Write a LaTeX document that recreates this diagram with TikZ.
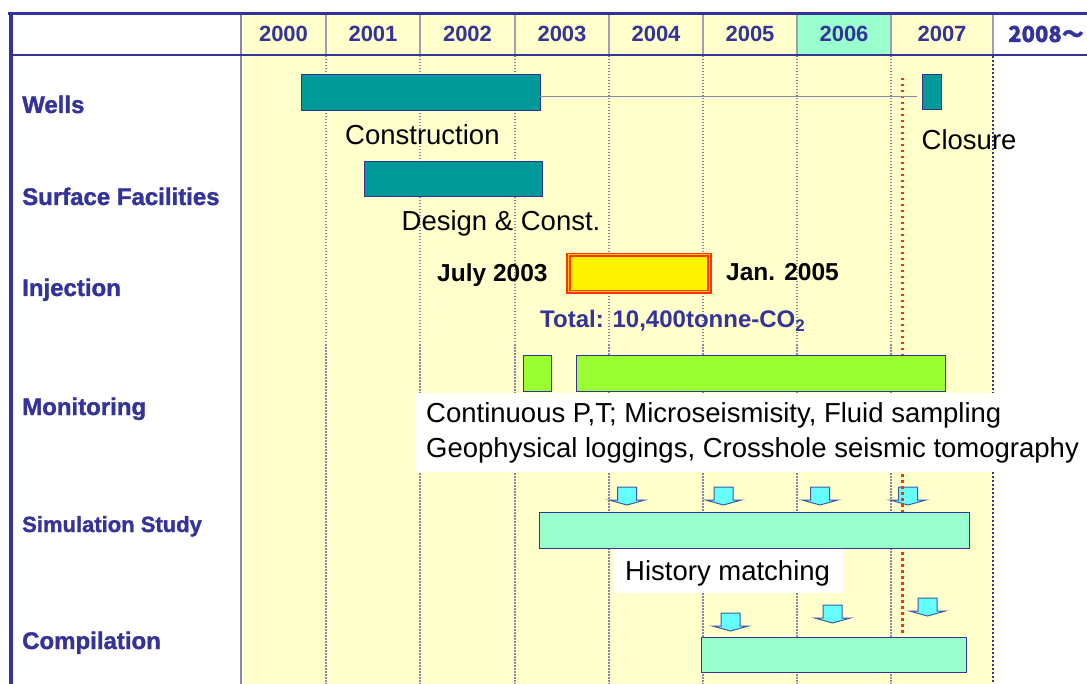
\documentclass[tikz,border=0pt]{standalone}
\usepackage{fontspec}
\setmainfont{Liberation Sans}
\newfontfamily\cjk{Noto Sans CJK JP}[BoldFeatures={FakeBold=1.2}]
\newfontfamily\heavy{Liberation Sans Bold}[FakeBold=1.4]
\definecolor{frameblue}{HTML}{333399}
\definecolor{bgyellow}{HTML}{FFFFCC}
\definecolor{mint}{HTML}{99FFCC}
\definecolor{teal}{HTML}{009999}
\definecolor{limeg}{HTML}{99FF33}
\definecolor{gridgray}{HTML}{8888AA}
\definecolor{sepgray}{HTML}{A0A0B4}
\definecolor{redline}{HTML}{FF3300}
\definecolor{arrcyan}{HTML}{66FFFF}
\definecolor{arredge}{HTML}{4455AA}
\newcommand\dnarr[2]{%
  \path[blockarrow] (#1-9.5,#2) -- (#1+9.5,#2) -- (#1+9.5,#2+13) -- (#1+18,#2+13)
    -- (#1,#2+18) -- (#1-18,#2+13) -- (#1-9.5,#2+13) -- cycle;}
\begin{document}
\begin{tikzpicture}[x=1pt,y=-1pt,
  rowlabel/.style={anchor=base west,inner sep=0pt,text=frameblue,font=\heavy\fontsize{24}{28}\selectfont},
  yearlabel/.style={anchor=base,inner sep=0pt,text=frameblue,font=\bfseries\fontsize{22}{26}\selectfont},
  note/.style={anchor=base west,inner sep=0pt,text=black,font=\fontsize{27.5}{32}\selectfont},
  boldnote/.style={anchor=base west,inner sep=0pt,text=black,font=\bfseries\fontsize{24.5}{28}\selectfont},
  bar/.style={anchor=north west,draw=frameblue,line width=1pt,inner sep=0pt,outer sep=0pt},
  whitebox/.style={anchor=north west,fill=white,inner sep=0pt,outer sep=0pt},
  grid/.style={draw=gridgray,line width=1.5pt,dash pattern=on 1.5pt off 1.5pt},
  hsep/.style={draw=sepgray,line width=2.5pt},
  blockarrow/.style={fill=arrcyan,draw=arredge,line width=1pt,line join=miter}
]
\useasboundingbox (0,0) rectangle (1087,684);
\fill[white] (0,0) rectangle (1087,684);
% background
\fill[bgyellow] (241,15) rectangle (993,684);
\fill[mint] (797,15) rectangle (891,55);
% header separators
\foreach \xx in {326,420,515,609,703,797,891,993} \draw[hsep] (\xx,15) -- (\xx,55);
% grid lines
\foreach \xx in {326,420,515,609,703,797,891} \draw[grid] (\xx,56) -- (\xx,684);
\draw[draw=frameblue,line width=2pt,dash pattern=on 2pt off 2pt] (993,56) -- (993,684);
\draw[draw=gridgray,line width=2pt] (241,15) -- (241,684);
% frame
\draw[frameblue,line width=1.6pt] (12,55) -- (1087,55);
\draw[frameblue,line width=3.5pt] (8.3,13.3) -- (1087,13.3);
\draw[frameblue,line width=4pt] (10.5,13.3) -- (10.5,684);
% year labels
\node[yearlabel] (y2000) at (283.5,42) {2000};
\node[yearlabel] (y2001) at (373,42) {2001};
\node[yearlabel] (y2002) at (467.5,42) {2002};
\node[yearlabel] (y2003) at (562,42) {2003};
\node[yearlabel] (y2004) at (656,42) {2004};
\node[yearlabel] (y2005) at (750,42) {2005};
\node[yearlabel] (y2006) at (844,42) {2006};
\node[yearlabel] (y2007) at (942,42) {2007};
\node[anchor=base,inner sep=0pt,text=frameblue,font=\cjk\bfseries\fontsize{22}{26}\selectfont] (y2008) at (1046,42) {2008～};
% row labels
\node[rowlabel] (lwells) at (22,113) {Wells};
\node[rowlabel] (lsurf) at (22,205) {Surface Facilities};
\node[rowlabel] (linj) at (22,296) {Injection};
\node[rowlabel] (lmon) at (22,415) {Monitoring};
\node[rowlabel,font=\heavy\fontsize{22}{26}\selectfont] (lsim) at (22,532) {Simulation Study};
\node[rowlabel] (lcomp) at (22,649) {Compilation};
% arrows
\dnarr{627}{487}
\dnarr{723.5}{487}
\dnarr{820}{487}
\dnarr{908}{487}
\dnarr{730.5}{613}
\dnarr{832.5}{605}
\dnarr{927.5}{598}
% red dotted line
\draw[redline,line width=3pt,dash pattern=on 2.5pt off 3.5pt] (902,78) -- (902,635);
% wells
\coordinate (wellsr) at (917,97);
\node[bar,fill=teal,minimum width=239pt,minimum height=36pt] (wellsbar) at (301,75) {};
\draw[gridgray,line width=1pt] (wellsbar.east |- wellsr) -- (wellsr);
\node[bar,fill=teal,minimum width=19pt,minimum height=35pt] (closebar) at (922,75) {};
\node[note] (tconst) at (345,145) {Construction};
\node[note] (tclose) at (921.5,150) {Closure};
% surface facilities
\node[bar,fill=teal,minimum width=178pt,minimum height=35pt] (surfbar) at (364,162) {};
\node[note] (tdesign) at (401.5,231) {Design \& Const.};
% injection
\node[anchor=north west,fill=yellow,draw=redline,double=orange!40!yellow,double distance=1pt,line width=1.7pt,inner sep=0pt,minimum width=141pt,minimum height=37pt] (injbar) at (567.5,254) {};
\node[boldnote] (tjuly) at (437,282) {July 2003};
\node[boldnote] (tjan) at (726,281) {Jan. 2005};
\node[boldnote,text=frameblue,font=\bfseries\fontsize{24}{28}\selectfont] (ttotal) at (540,328) {Total: 10,400tonne-CO\textsubscript{2}};
% monitoring
\node[bar,fill=limeg,minimum width=28pt,minimum height=36pt] (monbar1) at (523,356) {};
\node[bar,fill=limeg,minimum width=369pt,minimum height=36pt] (monbar2) at (576,356) {};
\node[whitebox,minimum width=671pt,minimum height=79pt] (monbox) at (416,393) {};
\node[note] (tmon1) at (426,423) {Continuous P,T; Microseismisity, Fluid sampling};
\node[note] (tmon2) at (426,457) {Geophysical loggings, Crosshole seismic tomography};
% simulation
\node[bar,fill=mint,minimum width=430pt,minimum height=36pt] (simbar) at (539,512) {};
\node[whitebox,minimum width=230pt,minimum height=44pt] (histbox) at (613,549) {};
\node[note] (thist) at (625,580) {History matching};
% compilation
\node[bar,fill=mint,minimum width=265pt,minimum height=35pt] (compbar) at (701,637) {};
\end{tikzpicture}
\end{document}
